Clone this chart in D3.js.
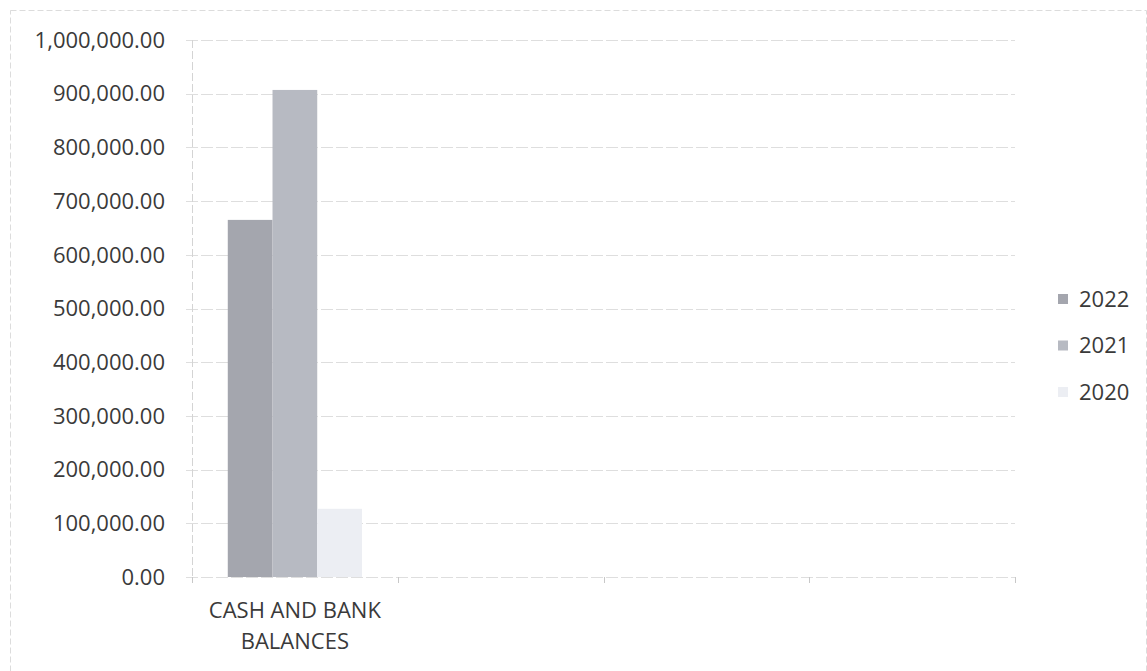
<!DOCTYPE html>
<html>
<head>
<meta charset="utf-8">
<script src="https://cdn.jsdelivr.net/npm/d3@7"></script>
<style>
  body { margin: 0; background: #fff; }
  svg text { font-family: "Open Sans", Lato, sans-serif; fill: #3a3a3a; }
</style>
</head>
<body>
<svg id="chart" width="1147" height="671"></svg>
<script>
const categories = ["CASH AND BANK BALANCES", "", " ", "  "];
const seriesNames = ["2022", "2021", "2020"];
const values2022 = [665000, null, null, null];
const values2021 = [907000, null, null, null];
const values2020 = [127000, null, null, null];
const yTicks = [0, 100000, 200000, 300000, 400000, 500000, 600000, 700000, 800000, 900000, 1000000];
const colors = ["#a4a6ae", "#b7bac2", "#eceef3"];

const seriesValues = [values2022, values2021, values2020];
const svg = d3.select("#chart");
const margin = { left: 192, right: 132, top: 40, bottom: 94 };
const W = 1147, H = 671;
const innerW = W - margin.left - margin.right;
const innerH = H - margin.top - margin.bottom;

// outer chart border
svg.append("rect").attr("x", 10.5).attr("y", 10.5).attr("width", W - 11).attr("height", H - 5)
  .attr("fill", "none").attr("stroke", "#dcdcdc").attr("stroke-dasharray", "6,3");

const g = svg.append("g").attr("transform", `translate(${margin.left},${margin.top})`);

const x = d3.scaleBand().domain(categories).range([0, innerW]).paddingInner(0).paddingOuter(0);
const x1 = d3.scaleBand().domain(seriesNames).range([0, x.bandwidth()]).paddingOuter(0.8).paddingInner(0);
const y = d3.scaleLinear().domain([0, 1000000]).range([innerH, 0]);

// gridlines
g.append("g").selectAll("line").data(yTicks).join("line")
  .attr("x1", -6).attr("x2", innerW)
  .attr("y1", d => Math.round(y(d)) + 0.5).attr("y2", d => Math.round(y(d)) + 0.5)
  .attr("stroke", "#dedede").attr("stroke-width", 1).attr("stroke-dasharray", "12,3");

// y axis labels
const fmt = d3.format(",.2f");
g.append("g").selectAll("text").data(yTicks).join("text")
  .attr("x", -27).attr("y", d => y(d)).attr("dy", "0.35em")
  .attr("text-anchor", "end").attr("font-size", 22).text(d => fmt(d));

// y axis line
g.append("line").attr("x1", 0.5).attr("x2", 0.5).attr("y1", 0).attr("y2", innerH + 6)
  .attr("stroke", "#d4d4d4").attr("stroke-dasharray", "8,3");

// x axis ticks
const tickPos = [0].concat(categories.map(c => x(c) + x.bandwidth()));
g.append("g").selectAll("line").data(tickPos).join("line")
  .attr("x1", d => Math.round(d) + 0.5).attr("x2", d => Math.round(d) + 0.5)
  .attr("y1", innerH).attr("y2", innerH + 6).attr("stroke", "#c8c8c8");

// bars
seriesNames.forEach((s, i) => {
  g.append("g").selectAll("rect")
    .data(categories.map((c, j) => ({ c, v: seriesValues[i][j] })).filter(d => d.v != null))
    .join("rect")
    .attr("x", d => x(d.c) + x1(s))
    .attr("width", x1.bandwidth())
    .attr("y", d => y(d.v))
    .attr("height", d => innerH - y(d.v))
    .attr("fill", colors[i]);
});

// x category labels
const labelLines = { "CASH AND BANK BALANCES": ["CASH AND BANK", "BALANCES"] };
categories.forEach(c => {
  const lines = labelLines[c];
  if (!lines) return;
  const t = g.append("text").attr("text-anchor", "middle").attr("font-size", 22)
    .attr("x", x(c) + x.bandwidth() / 2).attr("y", innerH + 41);
  lines.forEach((l, k) => t.append("tspan").attr("x", x(c) + x.bandwidth() / 2)
    .attr("dy", k === 0 ? 0 : 31).text(l));
});

// legend
const legend = svg.append("g").attr("transform", "translate(1058,299)");
seriesNames.forEach((s, i) => {
  const row = legend.append("g").attr("transform", `translate(0,${i * 46.5})`);
  row.append("rect").attr("x", 0).attr("y", -5).attr("width", 10).attr("height", 10).attr("fill", colors[i]);
  row.append("text").attr("x", 21).attr("y", 0).attr("dy", "0.35em").attr("font-size", 22).text(s);
});
</script>
</body>
</html>
